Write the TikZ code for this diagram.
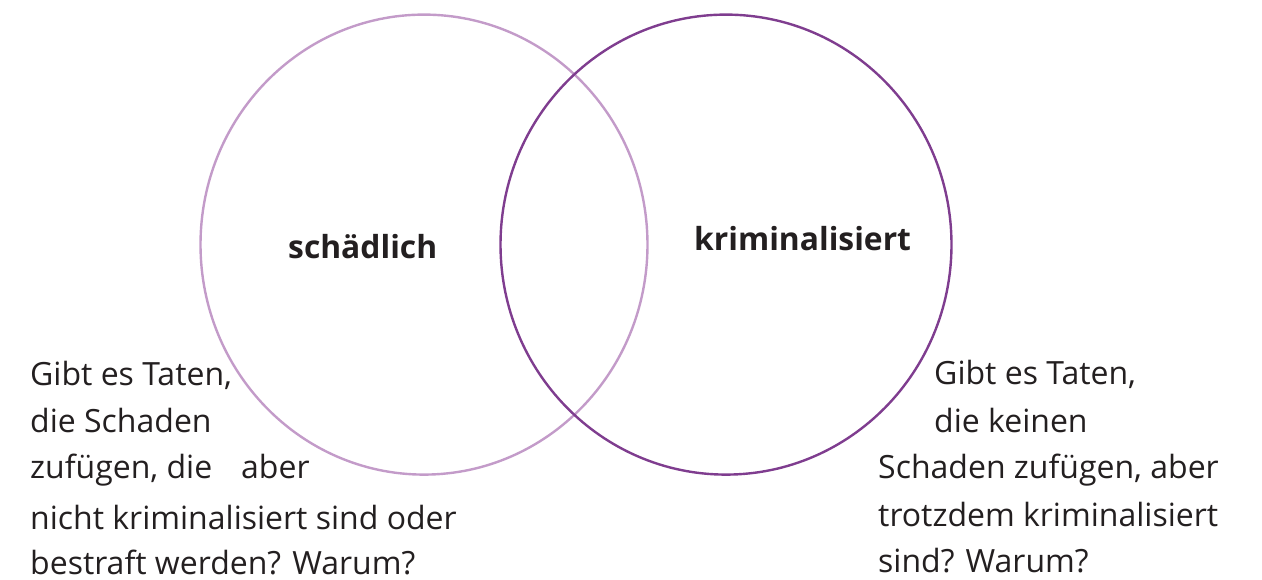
\documentclass[tikz,border=0pt]{standalone}
\usepackage{fontspec}
\setmainfont{Open Sans}
\definecolor{lightpurple}{HTML}{C39BC9}
\definecolor{darkpurple}{HTML}{7F3D8F}
\definecolor{txt}{HTML}{231F20}
\begin{document}
\begin{tikzpicture}[x=1pt,y=-1pt,
  ring/.style={line width=2.4pt},
  body/.style={anchor=base west,inner sep=0pt,text=txt,font=\fontsize{32}{38}\selectfont},
  label/.style={anchor=base west,inner sep=0pt,text=txt,font=\fontsize{31.8}{38}\selectfont\bfseries}]
\useasboundingbox (0,0) rectangle (1262,579);
\draw[ring,lightpurple] (424,244.6) ellipse [x radius=223.5, y radius=230];
\draw[ring,darkpurple] (726,244.6) ellipse [x radius=225.5, y radius=230];
\node[label] (harm) at (288,258) {schädlich};
\node[label] (crim) at (694,250) {kriminalisiert};
\node[body] (l1) at (30,385) {Gibt es Taten,};
\node[body] (l2) at (30,432) {die Schaden};
\node[body] (l3) at (30,478) {zufügen, die};
\node[body] (l3b) at (241,478) {aber};
\node[body] (l4) at (30,529) {nicht kriminalisiert sind oder};
\node[body] (l5) at (30,574.5) {bestraft werden? Warum?};
\node[body] (r1) at (934,384) {Gibt es Taten,};
\node[body] (r2) at (934,432) {die keinen};
\node[body] (r3) at (878,478) {Schaden zufügen, aber};
\node[body] (r4) at (878,526) {trotzdem kriminalisiert};
\node[body] (r5) at (878,572) {sind? Warum?};
\end{tikzpicture}
\end{document}
